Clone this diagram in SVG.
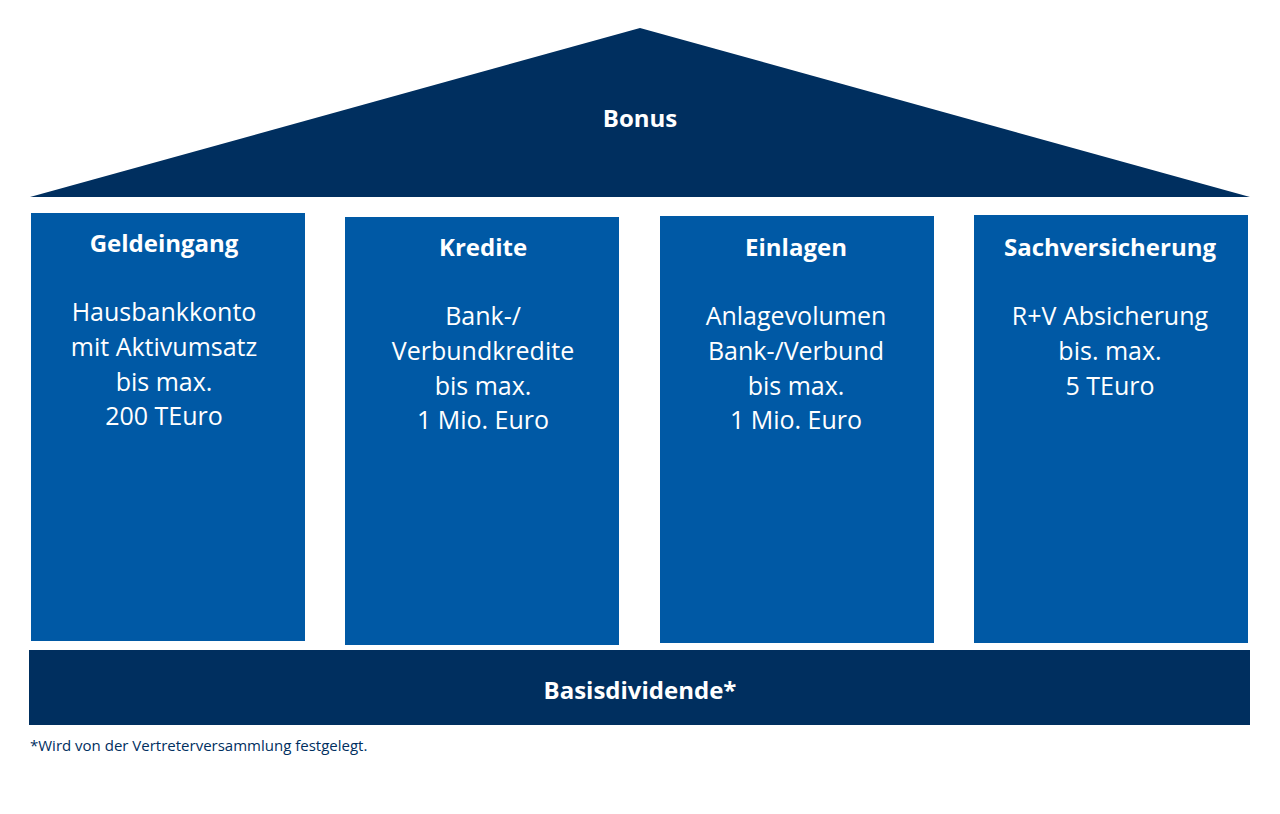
<svg xmlns="http://www.w3.org/2000/svg" width="1280" height="814" viewBox="0 0 1280 814">
<style>
.dark{fill:#002f5f}
.col{fill:#0059a5}
text{font-family:"Open Sans","Liberation Sans",sans-serif;fill:#fff;text-anchor:middle}
.t{font-weight:bold;font-size:24px}
.b{font-size:25px}
.f{font-size:15px;fill:#002f5f;text-anchor:start}
</style>
<rect width="1280" height="814" fill="#fff"/>
<g id="bonus"><polygon class="dark" points="30,197 640,28 1250,197"/><text class="t" x="640" y="127">Bonus</text></g>
<g id="geldeingang"><rect class="col" x="31" y="213" width="274" height="428"/>
<text class="t" x="164" y="252">Geldeingang</text>
<text class="b" x="164" y="321">Hausbankkonto</text><text class="b" x="164" y="356">mit Aktivumsatz</text><text class="b" x="164" y="391">bis max.</text><text class="b" x="164" y="425">200 TEuro</text></g>
<g id="kredite"><rect class="col" x="345" y="217" width="274" height="428"/>
<text class="t" x="483" y="256">Kredite</text>
<text class="b" x="483" y="325">Bank-/</text><text class="b" x="483" y="360">Verbundkredite</text><text class="b" x="483" y="395">bis max.</text><text class="b" x="483" y="429">1 Mio. Euro</text></g>
<g id="einlagen"><rect class="col" x="660" y="216" width="274" height="427"/>
<text class="t" x="796" y="256">Einlagen</text>
<text class="b" x="796" y="325">Anlagevolumen</text><text class="b" x="796" y="360">Bank-/Verbund</text><text class="b" x="796" y="395">bis max.</text><text class="b" x="796" y="429">1 Mio. Euro</text></g>
<g id="sachversicherung"><rect class="col" x="974" y="215" width="274" height="428"/>
<text class="t" x="1110" y="256">Sachversicherung</text>
<text class="b" x="1110" y="325">R+V Absicherung</text><text class="b" x="1110" y="360">bis. max.</text><text class="b" x="1110" y="395">5 TEuro</text></g>
<g id="basis"><rect class="dark" x="29" y="650" width="1221" height="75"/><text class="t" x="640" y="699">Basisdividende*</text></g>
<g id="connectors"/>
<text class="f" x="30" y="751">*Wird von der Vertreterversammlung festgelegt.</text>
</svg>
